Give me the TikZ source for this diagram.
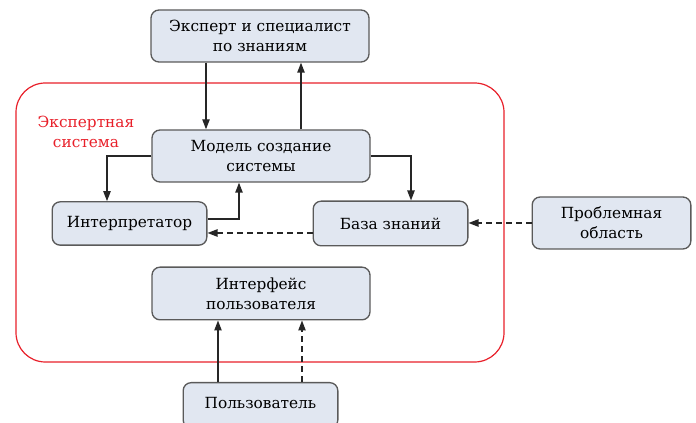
\documentclass[tikz,border=0pt]{standalone}
\usepackage{fontspec}
\newfontfamily\serifru{DejaVu Serif}
\usetikzlibrary{arrows.meta}
\definecolor{boxfill}{HTML}{E1E7F1}
\definecolor{boxline}{HTML}{5A5A5A}
\definecolor{sysred}{HTML}{E8202A}
\tikzset{
  txt/.style={font=\serifru\fontsize{11.5}{15}\selectfont},
  box/.style={draw=boxline, fill=boxfill, line width=1pt, rounded corners=6pt,
    align=center, inner sep=0pt, txt},
  conn/.style={line width=1pt, draw=black!85, -{Triangle[length=7.5pt,width=5.5pt]}},
  dconn/.style={conn, dash pattern=on 4.5pt off 3pt},
}
\begin{document}
\begin{tikzpicture}[x=0.75pt,y=-0.75pt]
\useasboundingbox (0,0) rectangle (696,423);
\draw[sysred, line width=0.9pt, rounded corners=22pt] (16,83) rectangle (504,362);
\node[text=sysred, align=center, txt] (lbl) at (86,132) {Экспертная\\система};
\node[box, minimum width=163.5pt, minimum height=39pt] (exp) at (260,36) {Эксперт и специалист\\по знаниям};
\node[box, minimum width=163.5pt, minimum height=39pt] (mod) at (261,156) {Модель создание\\системы};
\node[box, minimum width=116pt, minimum height=32.5pt] (int) at (129.5,223.5) {Интерпретатор};
\node[box, minimum width=116pt, minimum height=33.5pt] (kb) at (390.5,223.5) {База знаний};
\node[box, minimum width=119pt, minimum height=39pt] (prob) at (611.5,223) {Проблемная\\область};
\node[box, minimum width=163.5pt, minimum height=39.5pt] (ui) at (261,293.5) {Интерфейс\\пользователя};
\node[box, minimum width=116pt, minimum height=34pt, anchor=north] (usr) at (260.5,382) {};
\node[txt] (usrt) at (260.5,403) {Пользователь};
\coordinate (c1) at (107,156);
\coordinate (c2) at (239,219);
\coordinate (c3) at (411,156);
\draw[conn] (exp.south -| 206,0) -- (mod.north -| 206,0);
\draw[conn] (mod.north -| 301,0) -- (exp.south -| 301,0);
\draw[conn] (mod.west) -- (c1) -- (int.north -| c1);
\draw[conn] (int.east |- c2) -- (c2) -- (mod.south -| c2);
\draw[conn] (mod.east) -- (c3) -- (kb.north -| c3);
\draw[dconn] (kb.west |- 0,233) -- (int.east |- 0,233);
\draw[dconn] (prob.west) -- (kb.east |- prob.west);
\draw[conn] (usr.north -| 218,0) -- (ui.south -| 218,0);
\draw[dconn] (usr.north -| 302,0) -- (ui.south -| 302,0);
\end{tikzpicture}
\end{document}
